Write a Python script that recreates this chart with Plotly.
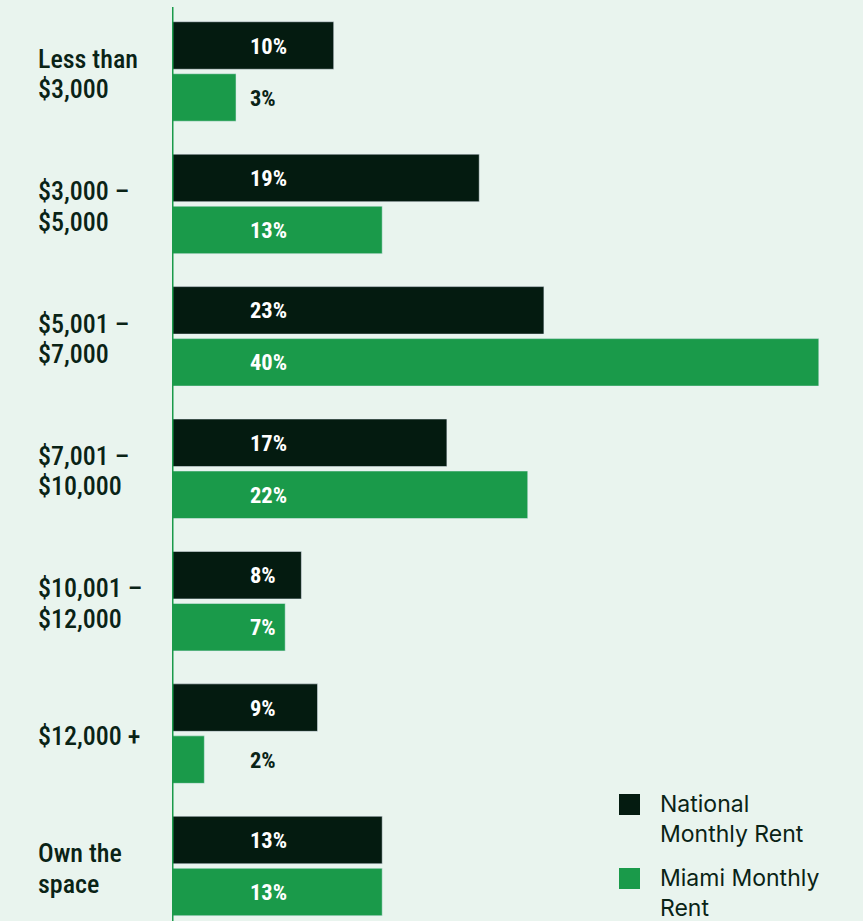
import plotly.graph_objects as go

categories = ["Less than<br>$3,000", "$3,000 –<br>$5,000", "$5,001 –<br>$7,000",
              "$7,001 –<br>$10,000", "$10,001 –<br>$12,000", "$12,000 +", "Own the<br>space"]
national = [10, 19, 23, 17, 8, 9, 13]
miami = [3.96, 13, 40, 22, 7, 2, 13]
national_labels = ["10%", "19%", "23%", "17%", "8%", "9%", "13%"]
miami_labels = ["3%", "13%", "40%", "22%", "7%", "2%", "13%"]
series_names = ["National<br>Monthly Rent", "Miami Monthly<br>Rent"]

BG = "#E9F4EE"
DARK = "#041B10"
GREEN = "#1A9A4A"
TEXT = "#0A2316"
COND = "Roboto Condensed, DejaVu Sans Condensed, Roboto"

W, H = 863, 921
L, T = 172, 7
pw, ph = W - L, H - T
px_per = 16.17
xmax = pw / px_per
pitch = 132.42
ytop = -(71.5 - T) / pitch
ybot = ytop + ph / pitch
ids = list(range(len(categories)))

fig = go.Figure()
fig.add_trace(go.Bar(y=ids, x=national, orientation="h", marker_color=DARK,
                     name="National", hoverinfo="skip"))
fig.add_trace(go.Bar(y=ids, x=miami, orientation="h", marker_color=GREEN,
                     name="Miami", hoverinfo="skip"))

LABEL_X = 4.7
ann = []
for i, c in enumerate(categories):
    for vals, labs, shift in ((national, national_labels, 26), (miami, miami_labels, -26)):
        v = vals[i]
        ann.append(dict(x=LABEL_X, y=i, xref="x", yref="y", text=f"<b>{labs[i]}</b>",
                        xanchor="left", yanchor="middle", yshift=shift, showarrow=False,
                        font=dict(family=COND, size=22.5,
                                  color="white" if v > 5.2 else TEXT)))
    lines = c.split("<br>")
    n = len(lines)
    for j, ln in enumerate(lines):
        off = (j - (n - 1) / 2) * 30.4 + 2.4
        ann.append(dict(x=(36 - L) / pw, y=i, xref="paper", yref="y", text=ln,
                        xanchor="left", yanchor="middle", yshift=-off, showarrow=False,
                        font=dict(family=COND, size=26, color=TEXT, weight=500)))

shapes = [dict(type="line", xref="x", yref="paper", x0=0, x1=0, y0=0, y1=1,
               line=dict(color=GREEN, width=3))]

def py2paper(py):
    return (H - py) / ph

legend_items = [(series_names[0], DARK, 794), (series_names[1], GREEN, 868)]
for name, col, top in legend_items:
    shapes.append(dict(type="rect", xref="paper", yref="paper",
                       x0=(619 - L) / pw, x1=(640 - L) / pw,
                       y0=py2paper(top + 21), y1=py2paper(top), fillcolor=col,
                       line=dict(width=0)))
    for j, ln in enumerate(name.split("<br>")):
        ann.append(dict(x=(658 - L) / pw, y=py2paper(top + 10 + j * 30), xref="paper", yref="paper",
                        text=ln, xanchor="left", yanchor="middle", showarrow=False,
                        font=dict(family="Inter", size=23, color=TEXT)))

fig.update_layout(
    width=W, height=H, margin=dict(l=L, r=0, t=T, b=0, pad=0),
    paper_bgcolor=BG, plot_bgcolor=BG, barmode="group",
    bargap=0.2146, bargroupgap=0.087, showlegend=False,
    xaxis=dict(range=[0, xmax], visible=False, fixedrange=True),
    yaxis=dict(range=[ybot, ytop], visible=False, fixedrange=True),
    annotations=ann, shapes=shapes,
)
fig.write_html("out.html", config={"displayModeBar": False},
               post_script="document.body.style.margin='0';document.body.style.background='%s';" % BG)
